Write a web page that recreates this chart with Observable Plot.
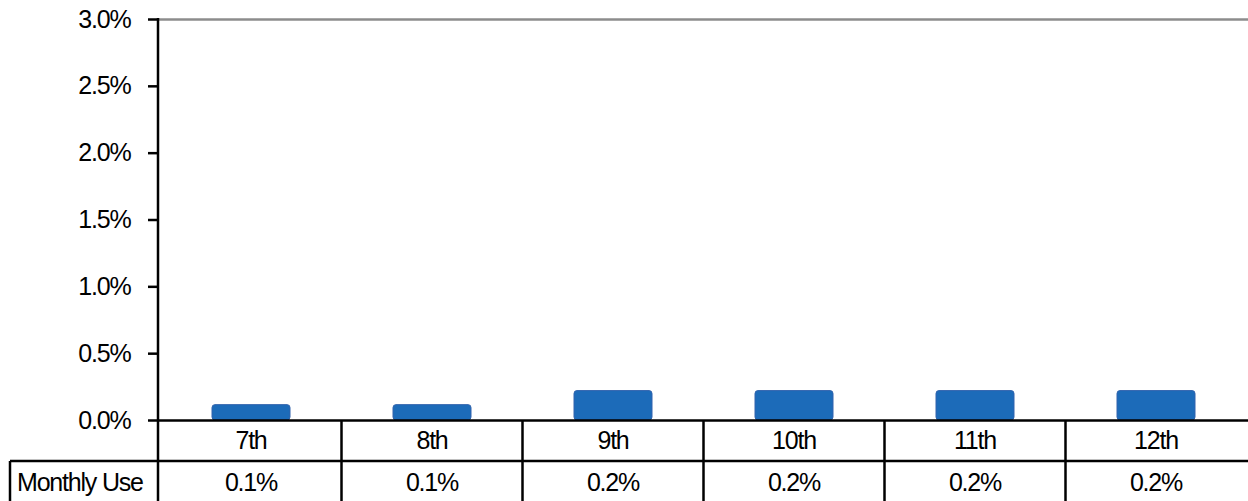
<!DOCTYPE html>
<html><head><meta charset="utf-8">
<script src="https://cdn.jsdelivr.net/npm/d3@7"></script>
<script src="https://cdn.jsdelivr.net/npm/@observablehq/plot@0.6"></script>
<style>body{margin:0;background:#fff}</style>
</head><body><div id="chart"></div>
<script>
const grades = ["7th","8th","9th","10th","11th","12th"];
const monthlyUse = [0.00115,0.00115,0.0022,0.0022,0.0022,0.0022];
const monthlyUseLabels = ["0.1%","0.1%","0.2%","0.2%","0.2%","0.2%"];
const rowLabel = "Monthly Use";
const yTicks = [0,0.005,0.01,0.015,0.02,0.025,0.03];

const data = grades.map((g,i)=>({grade:g, value:monthlyUse[i], label:monthlyUseLabels[i]}));
const font = '"Liberation Sans",Arial,sans-serif';
const W = 1248, H = 501;

const plot = Plot.plot({
  width: W, height: H,
  marginLeft: 158, marginRight: 0, marginTop: 19, marginBottom: 81,
  style: {fontFamily: font, fontSize: "25px", color: "#000", background: "#fff", overflow: "visible", letterSpacing: "-1.2px"},
  x: {domain: grades, paddingInner: 0.57, paddingOuter: 0.285, axis: null},
  y: {domain: [0, 0.03]},
  marks: [
    Plot.ruleY([0.03], {stroke: "#8c8c8c", strokeWidth: 2.5}),
    Plot.barY(data, {x: "grade", y: "value", fill: "#1c6bb9", stroke: "#3163ad", strokeWidth: 1, rx: 3}),
    Plot.ruleY([0], {stroke: "#000", strokeWidth: 2.5}),
    Plot.axisY({ticks: yTicks, tickFormat: d3.format(".1%"), tickSize: 10, tickPadding: 18, strokeWidth: 2.5, stroke: "#000", label: null})
  ]
});

const xs = plot.scale("x"), ys = plot.scale("y");
const svg = d3.select(plot);
const g = svg.append("g").attr("stroke", "#000").attr("stroke-width", 2.5);
const y0 = ys.apply(0), yTop = ys.apply(0.03);
const left = xs.range[0], right = xs.range[1];
const step = xs.step;
const row1Bottom = y0 + 41;
const labelLeft = 10;
// axis line
g.append("line").attr("x1", left).attr("x2", left).attr("y1", yTop - 1).attr("y2", H);
// row separator
g.append("line").attr("x1", labelLeft).attr("x2", right).attr("y1", row1Bottom).attr("y2", row1Bottom);
// left border of row label cell
g.append("line").attr("x1", labelLeft).attr("x2", labelLeft).attr("y1", row1Bottom).attr("y2", H);
// cell separators
grades.forEach((c, i) => {
  if (i === 0) return;
  const cx = xs.apply(c) + xs.bandwidth / 2 - step / 2;
  g.append("line").attr("x1", cx).attr("x2", cx).attr("y1", y0).attr("y2", H);
});
const t = svg.append("g").attr("font-family", font).attr("font-size", 25).attr("fill", "#000")
  .attr("stroke", "none").attr("letter-spacing", "-1.2px");
grades.forEach((c, i) => {
  const cx = xs.apply(c) + xs.bandwidth / 2;
  t.append("text").attr("x", cx).attr("y", y0 + 29).attr("text-anchor", "middle").text(c);
  t.append("text").attr("x", cx).attr("y", row1Bottom + 30).attr("text-anchor", "middle").text(monthlyUseLabels[i]);
});
t.append("text").attr("x", 17).attr("y", row1Bottom + 30).attr("text-anchor", "start").text(rowLabel);

document.getElementById("chart").appendChild(plot);
</script>
</body></html>
